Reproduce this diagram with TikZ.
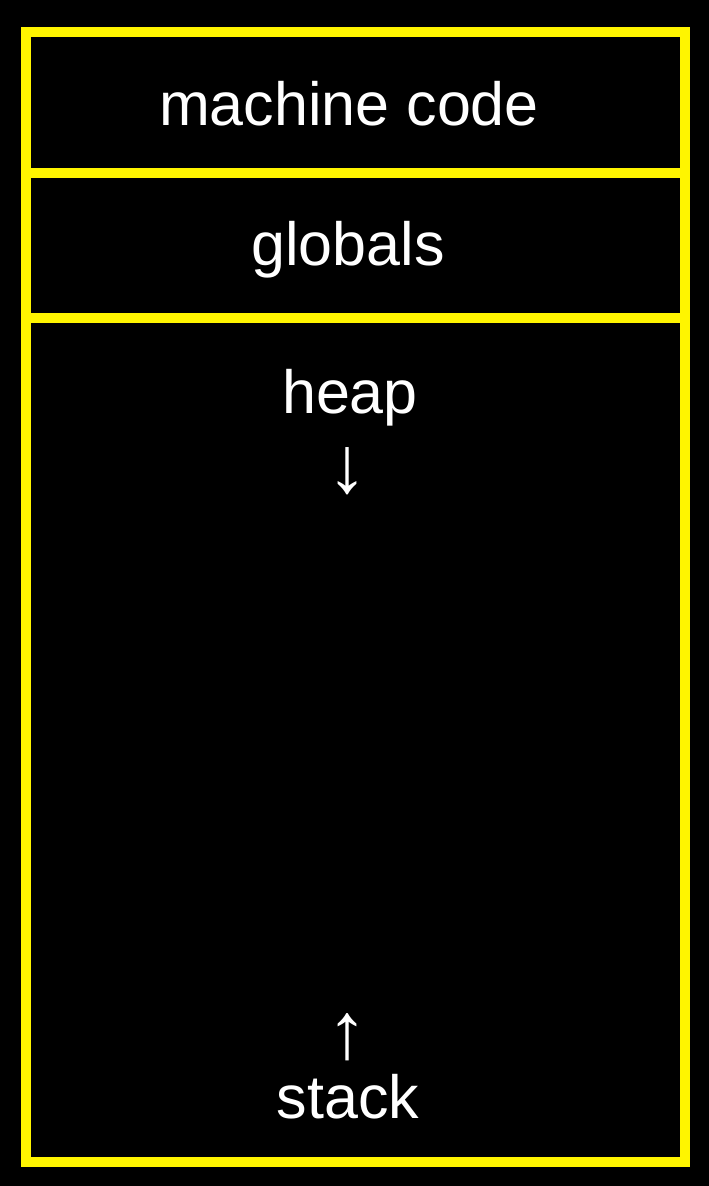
\documentclass[tikz,border=0pt]{standalone}
\usepackage{fontspec}
\setmainfont{Liberation Sans}
\definecolor{segline}{RGB}{255,245,0}
\tikzset{
  segment/.style={draw=segline, line width=10bp, line join=miter},
  label/.style={text=white, inner sep=0pt, anchor=base,
    font=\fontsize{61bp}{72bp}\selectfont},
  growth/.style={text=white, inner sep=0pt, anchor=center,
    font=\fontsize{80bp}{90bp}\selectfont},
}
\begin{document}
\begin{tikzpicture}[x=1bp, y=-1bp]
  % page and background
  \fill[black] (0,0) rectangle (709,1186);
  \useasboundingbox (0,0) rectangle (709,1186);

  % memory segments
  \draw[segment] (26,32) rectangle (685,173);
  \draw[segment] (26,173) rectangle (685,318);
  \draw[segment] (26,318) rectangle (685,1162);

  % segment labels
  \node[label] (code)    at (349,125)  {machine code};
  \node[label] (globals) at (348,265)  {globals};
  \node[label] (heap)    at (350,413)  {heap};
  \node[label] (stack)   at (348,1118) {stack};

  % growth directions
  \node[growth] (heapdir)  at (347,471)  {↓};
  \node[growth] (stackdir) at (347,1037) {↑};
\end{tikzpicture}
\end{document}
